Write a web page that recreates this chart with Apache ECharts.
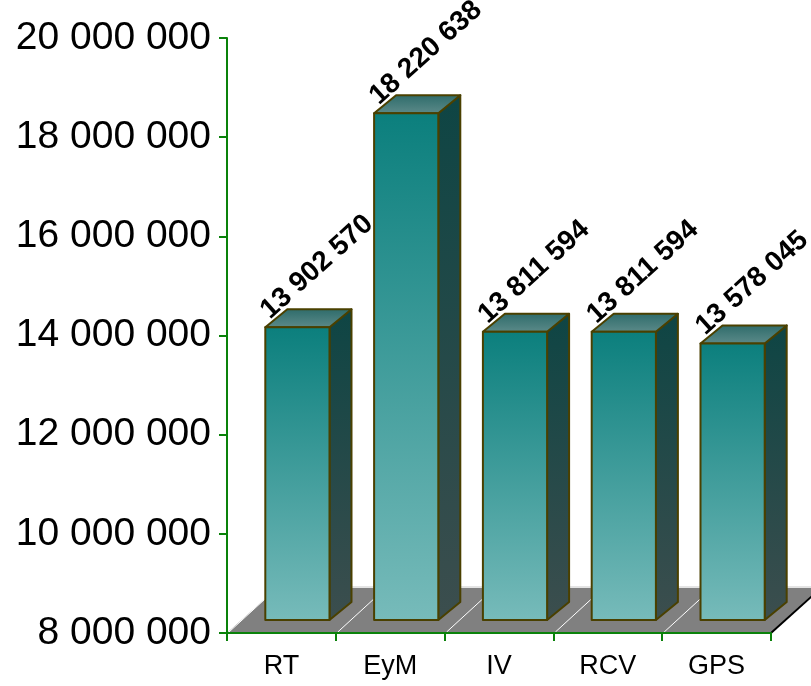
<!DOCTYPE html>
<html>
<head>
<meta charset="utf-8">
<script src="https://cdn.jsdelivr.net/npm/echarts@6/dist/echarts.min.js"></script>
<style>
  html, body { margin: 0; padding: 0; background: #ffffff; }
  #chart { width: 811px; height: 686px; }
</style>
</head>
<body>
<div id="chart"></div>
<script>
// Data
const categories = ['RT', 'EyM', 'IV', 'RCV', 'GPS'];
const values = [13902570, 18220638, 13811594, 13811594, 13578045];
const axisMin = 8000000;
const axisMax = 20000000;
const axisStep = 2000000;

// Thousands separated by spaces
function fmt(n) {
  return String(Math.round(n)).replace(/\B(?=(\d{3})+(?!\d))/g, ' ');
}

// 3D look: offsets in pixels
const FRONT = [16, -13];   // bar front face behind the axis plane
const DEPTH = [22, -18];   // bar depth
const FLOOR = [50, -45];   // floor depth
const BAR_RATIO = 0.59;
const LABEL_ANGLE = 42 * Math.PI / 180;

const FONT = '"Liberation Sans", Arial, sans-serif';
const GREEN = '#0a820a';

const frontFill = new echarts.graphic.LinearGradient(0, 0, 0, 1, [
  { offset: 0, color: '#0b7f7d' },
  { offset: 1, color: '#77bbba' }
]);
const sideFill = new echarts.graphic.LinearGradient(0, 0, 0, 1, [
  { offset: 0, color: '#0e4544' },
  { offset: 1, color: '#3c4e4e' }
]);
const topFill = new echarts.graphic.LinearGradient(0, 0, 0, 1, [
  { offset: 0, color: '#2d6b6a' },
  { offset: 1, color: '#5d8b8a' }
]);

function renderFloor(params, api) {
  const band = api.size([1, 0])[0];
  const p0 = api.coord([0, axisMin]);
  const n = categories.length;
  const left = p0[0] - band / 2;
  const right = left + band * n;
  const y = p0[1];
  const fx = FLOOR[0], fy = FLOOR[1];
  const children = [
    { type: 'line', shape: { x1: left + fx, y1: y + fy - 1, x2: right + fx + 4, y2: y + fy - 1 },
      style: { stroke: '#c8c8c8', lineWidth: 1 } },
    { type: 'polygon', shape: { points: [[left, y], [right, y], [right + fx, y + fy], [left + fx, y + fy]] },
      style: { fill: '#808080' } }
  ];
  for (let i = 0; i < n; i++) {
    const x = left + band * i;
    children.push({ type: 'line', shape: { x1: x + 2, y1: y - 1, x2: x + fx, y2: y + fy },
      style: { stroke: '#ffffff', lineWidth: 1 } });
  }
  children.push({ type: 'line', shape: { x1: right, y1: y, x2: right + fx, y2: y + fy },
    style: { stroke: '#000000', lineWidth: 2 } });
  return { type: 'group', children: children };
}

function renderBar(params, api) {
  const idx = api.value(0);
  const v = api.value(1);
  const base = api.coord([idx, axisMin]);
  const top = api.coord([idx, v]);
  const band = api.size([1, 0])[0];
  const w = band * BAR_RATIO;
  const x0 = base[0] - w / 2 + FRONT[0];
  const x1 = x0 + w;
  const yb = base[1] + FRONT[1];
  const yt = top[1] + FRONT[1];
  const dx = DEPTH[0], dy = DEPTH[1];
  const edge = { stroke: '#4a4000', lineWidth: 2, lineJoin: 'round' };
  return {
    type: 'group',
    children: [
      { type: 'polygon',
        shape: { points: [[x1, yt], [x1 + dx, yt + dy], [x1 + dx, yb + dy], [x1, yb]] },
        style: Object.assign({ fill: sideFill }, edge) },
      { type: 'polygon',
        shape: { points: [[x0, yt], [x0 + dx, yt + dy], [x1 + dx, yt + dy], [x1, yt]] },
        style: Object.assign({ fill: topFill }, edge) },
      { type: 'rect',
        shape: { x: x0, y: yt, width: w, height: yb - yt },
        style: Object.assign({ fill: frontFill }, edge) },
      { type: 'text', x: x0 + 9, y: yt - 3, rotation: LABEL_ANGLE, z2: 10,
        style: { text: fmt(v), font: 'bold 28px ' + FONT, fill: '#000000',
                 align: 'left', verticalAlign: 'bottom' } }
    ]
  };
}

const chart = echarts.init(document.getElementById('chart'), null, { renderer: 'canvas' });
chart.setOption({
  animation: false,
  backgroundColor: '#ffffff',
  grid: { left: 227, right: 40, top: 38, bottom: 53, containLabel: false },
  xAxis: {
    type: 'category',
    data: categories,
    boundaryGap: true,
    z: 5,
    axisLine: { show: true, lineStyle: { color: GREEN, width: 2 } },
    axisTick: { show: true, length: 8, lineStyle: { color: GREEN, width: 2 } },
    axisLabel: { color: '#000000', fontSize: 27, fontFamily: FONT, margin: 20 },
    splitLine: { show: false }
  },
  yAxis: {
    type: 'value',
    min: axisMin,
    max: axisMax,
    interval: axisStep,
    z: 5,
    axisLine: { show: true, lineStyle: { color: GREEN, width: 2 } },
    axisTick: { show: true, length: 8, lineStyle: { color: GREEN, width: 2 } },
    axisLabel: { color: '#000000', fontSize: 39, fontFamily: FONT, margin: 16, formatter: fmt },
    splitLine: { show: false }
  },
  series: [
    { type: 'custom', name: 'floor', z: 1, silent: true, data: [0], renderItem: renderFloor },
    { type: 'custom', name: 'values', z: 2,
      data: values.map(function (v, i) { return [i, v]; }),
      encode: { x: 0, y: 1 },
      renderItem: renderBar }
  ]
});
</script>
</body>
</html>
